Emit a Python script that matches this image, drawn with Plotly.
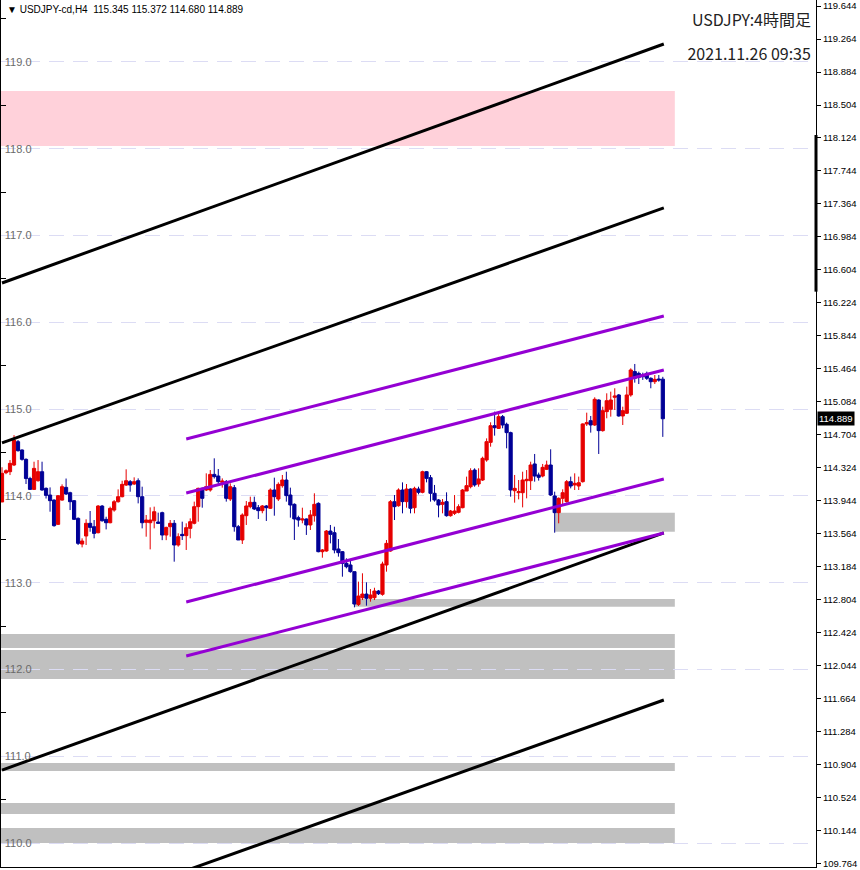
import plotly.graph_objects as go

# ---------------- data ----------------
symbol_title = "USDJPY:4時間足"
stamp_text = "2021.11.26 09:35"
header_name = "USDJPY-cd,H4"

bars_open = [113.93, 114.267, 114.279, 114.356, 114.625, 114.529, 114.421, 114.20, 114.075, 114.175,
             114.279, 114.087, 114.01, 113.952, 113.672, 113.952, 114.098, 114.037, 113.945, 113.741,
             113.445, 113.538, 113.684, 113.645, 113.576, 113.883, 113.73, 113.691, 113.837, 113.933,
             113.991, 114.125, 114.164, 114.137, 114.175, 113.991, 113.695, 113.691, 113.714, 113.699,
             113.807, 113.549, 113.645, 113.684, 113.434, 113.557, 113.542, 113.626, 113.684, 113.876,
             114.087, 114.068, 114.068, 114.248, 114.229, 114.156, 114.164, 113.964, 114.095, 113.645,
             113.492, 113.772, 113.876, 113.926, 113.864, 113.83, 113.884, 113.857, 114.068, 113.964,
             114.118, 114.183, 114.01, 113.903, 113.749, 113.722, 113.734, 113.665, 113.772, 113.914,
             113.357, 113.365, 113.595, 113.576, 113.388, 113.357, 113.223, 113.204, 113.127, 112.75,
             112.827, 112.869, 112.82, 112.827, 112.904, 112.866, 113.204, 113.365, 113.933, 113.887,
             114.068, 113.934, 114.079, 113.864, 114.079, 114.041, 114.279, 114.21, 114.03, 113.953,
             113.903, 113.934, 113.772, 113.799, 113.811, 113.864, 114.056, 114.106, 114.298, 114.137,
             114.183, 114.414, 114.617, 114.809, 114.778, 114.913, 114.825, 114.729, 114.06, 114.037,
             114.037, 114.175, 114.175, 114.368, 114.241, 114.229, 114.306, 114.356, 113.999, 113.807,
             113.972, 113.934, 114.164, 114.126, 114.114, 114.164, 114.829, 114.867, 114.817, 115.105,
             114.752, 114.971, 114.998, 115.136, 115.163, 114.921, 114.952, 115.163, 115.432, 115.412,
             115.393, 115.412, 115.355, 115.316, 115.347, 115.345]
bars_high = [114.33, 114.306, 114.413, 114.70, 114.644, 114.536, 114.433, 114.22, 114.394, 114.413,
             114.394, 114.098, 114.098, 113.96, 114.01, 114.133, 114.20, 114.048, 113.952, 113.753,
             113.511, 113.73, 113.826, 113.722, 113.895, 113.895, 113.76, 113.876, 113.952, 114.075,
             114.175, 114.306, 114.183, 114.214, 114.202, 114.106, 113.78, 113.868, 113.876, 113.807,
             113.818, 113.645, 113.722, 113.722, 113.569, 113.703, 113.684, 113.741, 113.934, 114.095,
             114.095, 114.26, 114.298, 114.433, 114.31, 114.202, 114.183, 114.145, 114.126, 113.665,
             113.799, 113.941, 113.991, 113.991, 113.895, 113.895, 113.895, 114.087, 114.21, 114.156,
             114.241, 114.279, 114.095, 113.914, 113.772, 113.864, 113.741, 113.837, 114.03, 113.926,
             113.388, 113.607, 113.665, 113.645, 113.503, 113.365, 113.281, 113.273, 113.127, 113.012,
             113.108, 113.004, 112.927, 112.942, 112.916, 113.242, 113.492, 113.952, 114.01, 114.087,
             114.156, 114.137, 114.087, 114.106, 114.106, 114.29, 114.287, 114.241, 114.126, 113.964,
             113.964, 114.041, 113.838, 114.01, 113.903, 114.079, 114.222, 114.318, 114.318, 114.318,
             114.452, 114.663, 114.848, 114.971, 114.971, 114.932, 114.844, 114.74, 114.241, 114.183,
             114.279, 114.298, 114.394, 114.483, 114.268, 114.368, 114.406, 114.537, 114.049, 113.983,
             114.076, 114.183, 114.222, 114.26, 114.222, 114.836, 114.959, 114.921, 115.136, 115.113,
             115.028, 115.182, 115.201, 115.24, 115.174, 115.028, 115.259, 115.47, 115.52, 115.432,
             115.42, 115.432, 115.366, 115.393, 115.393, 115.372]
bars_low = [113.93, 114.25, 114.24, 114.344, 114.51, 114.406, 114.137, 114.068, 114.068, 114.164,
            114.06, 113.97, 113.818, 113.645, 113.664, 113.945, 114.01, 113.837, 113.722, 113.434,
            113.407, 113.434, 113.587, 113.511, 113.568, 113.703, 113.614, 113.684, 113.818, 113.922,
            113.983, 114.114, 114.048, 114.125, 113.914, 113.626, 113.53, 113.384, 113.626, 113.676,
            113.49, 113.49, 113.53, 113.242, 113.415, 113.492, 113.377, 113.511, 113.672, 113.703,
            113.864, 114.056, 114.049, 114.20, 114.133, 114.095, 113.934, 113.941, 113.588, 113.492,
            113.446, 113.665, 113.857, 113.837, 113.734, 113.80, 113.711, 113.849, 113.772, 113.941,
            114.095, 113.934, 113.749, 113.492, 113.645, 113.684, 113.55, 113.607, 113.703, 113.35,
            113.288, 113.357, 113.453, 113.338, 113.30, 113.069, 113.165, 113.115, 112.716, 112.731,
            112.80, 112.735, 112.781, 112.80, 112.858, 112.85, 113.127, 113.357, 113.722, 113.876,
            113.799, 113.864, 113.799, 113.799, 114.018, 114.03, 114.156, 113.934, 113.934, 113.753,
            113.799, 113.761, 113.761, 113.78, 113.799, 113.857, 114.056, 114.087, 114.106, 114.106,
            114.172, 114.394, 114.567, 114.694, 114.771, 114.779, 114.548, 113.991, 113.922, 113.96,
            113.868, 113.972, 114.068, 114.164, 114.176, 114.214, 114.298, 113.999, 113.576, 113.684,
            113.884, 113.922, 114.087, 114.068, 114.068, 114.153, 114.806, 114.729, 114.806, 114.483,
            114.74, 114.894, 114.913, 114.99, 114.913, 114.817, 114.944, 115.143, 115.305, 115.289,
            115.336, 115.336, 115.24, 115.289, 115.316, 114.680]
bars_close = [114.26, 114.29, 114.375, 114.644, 114.521, 114.421, 114.20, 114.075, 114.317, 114.279,
              114.068, 114.006, 113.945, 113.657, 114.002, 114.106, 114.022, 113.933, 113.73, 113.453,
              113.48, 113.684, 113.637, 113.568, 113.883, 113.714, 113.691, 113.856, 113.933, 113.991,
              114.133, 114.175, 114.125, 114.164, 113.991, 113.691, 113.722, 113.722, 113.818, 113.684,
              113.549, 113.637, 113.684, 113.434, 113.53, 113.542, 113.634, 113.703, 113.876, 114.087,
              113.972, 114.106, 114.248, 114.222, 114.164, 114.172, 113.972, 114.106, 113.645, 113.492,
              113.78, 113.884, 113.926, 113.849, 113.83, 113.884, 113.864, 114.068, 113.991, 114.133,
              114.183, 114.003, 113.895, 113.734, 113.722, 113.734, 113.665, 113.78, 113.903, 113.357,
              113.377, 113.595, 113.557, 113.377, 113.346, 113.223, 113.184, 113.127, 112.754, 112.846,
              112.869, 112.82, 112.858, 112.904, 112.873, 113.215, 113.453, 113.933, 113.876, 114.068,
              113.934, 114.079, 113.857, 114.087, 114.041, 114.279, 114.202, 114.03, 113.953, 113.895,
              113.926, 113.772, 113.826, 113.826, 113.876, 114.068, 114.118, 114.29, 114.126, 114.195,
              114.433, 114.625, 114.809, 114.786, 114.913, 114.817, 114.729, 114.068, 114.087, 114.049,
              114.183, 114.191, 114.356, 114.229, 114.214, 114.329, 114.356, 114.01, 113.807, 113.972,
              114.037, 114.164, 114.114, 114.145, 114.152, 114.829, 114.844, 114.817, 115.113, 114.752,
              114.982, 115.097, 115.105, 115.151, 114.921, 114.982, 115.163, 115.451, 115.355, 115.366,
              115.374, 115.355, 115.316, 115.343, 115.336, 114.889]
bar_index = list(range(len(bars_open)))

# channel lines: (start bar, start price, end bar, end price)
black_x0 = [0, 0, 0, 47]
black_y0 = [116.453, 114.610, 110.841, 109.700]
black_x1 = [165.25, 165.25, 165.25, 165.25]
black_y1 = [119.207, 117.318, 113.573, 111.648]

purple_x0 = [46, 46, 46, 46]
purple_y0 = [114.656, 114.033, 112.777, 112.155]
purple_x1 = [165.25, 165.25, 165.25, 165.25]
purple_y1 = [116.073, 115.451, 114.195, 113.573]

# horizontal zones (price bands); start bar None = from left edge
zone_low = [118.032, 113.587, 112.723, 112.248, 111.891, 110.830, 110.334, 110.000]
zone_high = [118.666, 113.806, 112.812, 112.409, 112.225, 110.922, 110.461, 110.173]
zone_start = [None, 138, 88, None, None, None, None, None]
zone_end = [168, 168, 168, 168, 168, 168, 168, 168]
zone_kind = ["resist", "support", "support", "support", "support", "support", "support", "support"]

# axes
right_ticks = [round(109.764 + 0.38 * k, 3) for k in range(27)]
grid_levels = [110, 111, 112, 113, 114, 115, 116, 117, 118, 119]
half_levels = [109.5 + k for k in range(11)]

Y_MIN, Y_MAX = 109.724, 119.714
X_MIN, X_MAX = -0.25, 203.25

# ---------------- figure ----------------
fig = go.Figure()

fig.add_trace(go.Candlestick(
    x=bar_index, open=bars_open, high=bars_high, low=bars_low, close=bars_close,
    increasing=dict(line=dict(color="#e60000", width=1), fillcolor="#e60000"),
    decreasing=dict(line=dict(color="#000096", width=1), fillcolor="#000096"),
    whiskerwidth=0, hoverinfo="skip", showlegend=False,
))

for x0, y0, x1, y1 in zip(black_x0, black_y0, black_x1, black_y1):
    fig.add_trace(go.Scatter(x=[x0, x1], y=[y0, y1], mode="lines",
                             line=dict(color="black", width=3),
                             hoverinfo="skip", showlegend=False))
for x0, y0, x1, y1 in zip(purple_x0, purple_y0, purple_x1, purple_y1):
    fig.add_trace(go.Scatter(x=[x0, x1], y=[y0, y1], mode="lines",
                             line=dict(color="#9400d3", width=3),
                             hoverinfo="skip", showlegend=False))

# invisible trace to activate the left (overlay) axis
fig.add_trace(go.Scatter(x=[X_MIN], y=[Y_MIN], yaxis="y2", mode="markers",
                         marker=dict(opacity=0), hoverinfo="skip", showlegend=False))

for lo, hi, st, en, kind in zip(zone_low, zone_high, zone_start, zone_end, zone_kind):
    fig.add_shape(type="rect", xref="x", yref="y",
                  x0=X_MIN - 5 if st is None else st, x1=en, y0=lo, y1=hi,
                  fillcolor="#ffd1da" if kind == "resist" else "#c0c0c0",
                  line=dict(width=0), layer="below")

# scroll marker on the right scale
fig.add_shape(type="line", xref="paper", yref="paper", x0=1, x1=1,
              y0=0.6636, y1=0.8443, line=dict(color="black", width=3))

tick_font = dict(family="Liberation Sans, Arial, sans-serif", size=9.5, color="black")

fig.update_layout(
    width=860, height=870,
    margin=dict(l=1, r=44, t=0, b=3),
    paper_bgcolor="white", plot_bgcolor="white",
    boxgap=0.2, boxgroupgap=0,
    xaxis=dict(range=[X_MIN, X_MAX], showgrid=False, zeroline=False,
               showticklabels=False, ticks="", rangeslider=dict(visible=False),
               showline=True, linecolor="black", linewidth=1, fixedrange=True),
    yaxis=dict(range=[Y_MIN, Y_MAX], side="right", tickvals=right_ticks,
               ticktext=[f"{v:.3f}" for v in right_ticks], ticks="outside",
               ticklen=4, tickcolor="black", showline=True, linecolor="black",
               linewidth=1, showgrid=False, zeroline=False, tickfont=tick_font,
               fixedrange=True),
    yaxis2=dict(range=[Y_MIN, Y_MAX], overlaying="y", side="left",
                tickvals=grid_levels, ticktext=[f"{v:.1f}" for v in grid_levels],
                ticklabelposition="inside", ticks="", showline=True,
                ticklabelstandoff=3,
                linecolor="black", linewidth=1,
                showgrid=True, gridcolor="#dcdcf4", griddash="15px,9px", gridwidth=1,
                zeroline=False,
                tickfont=dict(family="Liberation Sans, Arial, sans-serif", size=11, color="#6a6a6a"),
                minor=dict(tickvals=half_levels, ticks="inside", ticklen=5,
                           tickcolor="black", showgrid=False),
                fixedrange=True),
)

last_o, last_h, last_l, last_c = bars_open[-1], bars_high[-1], bars_low[-1], bars_close[-1]
header = f"▼ {header_name}\u00a0\u00a0{last_o:.3f} {last_h:.3f} {last_l:.3f} {last_c:.3f}"
fig.add_annotation(xref="paper", yref="paper", x=0, y=1, xanchor="left", yanchor="top",
                   xshift=4, yshift=-2, showarrow=False, text=header,
                   font=dict(family="Liberation Sans, Arial, sans-serif", size=10, color="black"))
fig.add_annotation(xref="paper", yref="paper", x=1, y=1, xanchor="right", yanchor="top",
                   xshift=-3, yshift=-5, showarrow=False, text=symbol_title,
                   width=130, align="right",
                   font=dict(family="Noto Sans CJK JP, sans-serif", size=16, color="#222222"))
fig.add_annotation(xref="paper", yref="paper", x=1, y=1, xanchor="right", yanchor="top",
                   xshift=-3, yshift=-39, showarrow=False, text=stamp_text,
                   width=130, align="right",
                   font=dict(family="Noto Sans CJK JP, sans-serif", size=16, color="#222222"))
fig.add_annotation(xref="paper", yref="y", x=1, y=last_c, xanchor="left", yanchor="middle",
                   xshift=1, showarrow=False, text=f"{last_c:.3f}", bgcolor="black",
                   borderpad=1,
                   font=dict(family="Liberation Sans, Arial, sans-serif", size=9.5, color="white"))

fig.write_html("out.html", config={"displayModeBar": False},
               post_script="document.body.style.margin='0px';document.body.style.overflow='hidden';")
